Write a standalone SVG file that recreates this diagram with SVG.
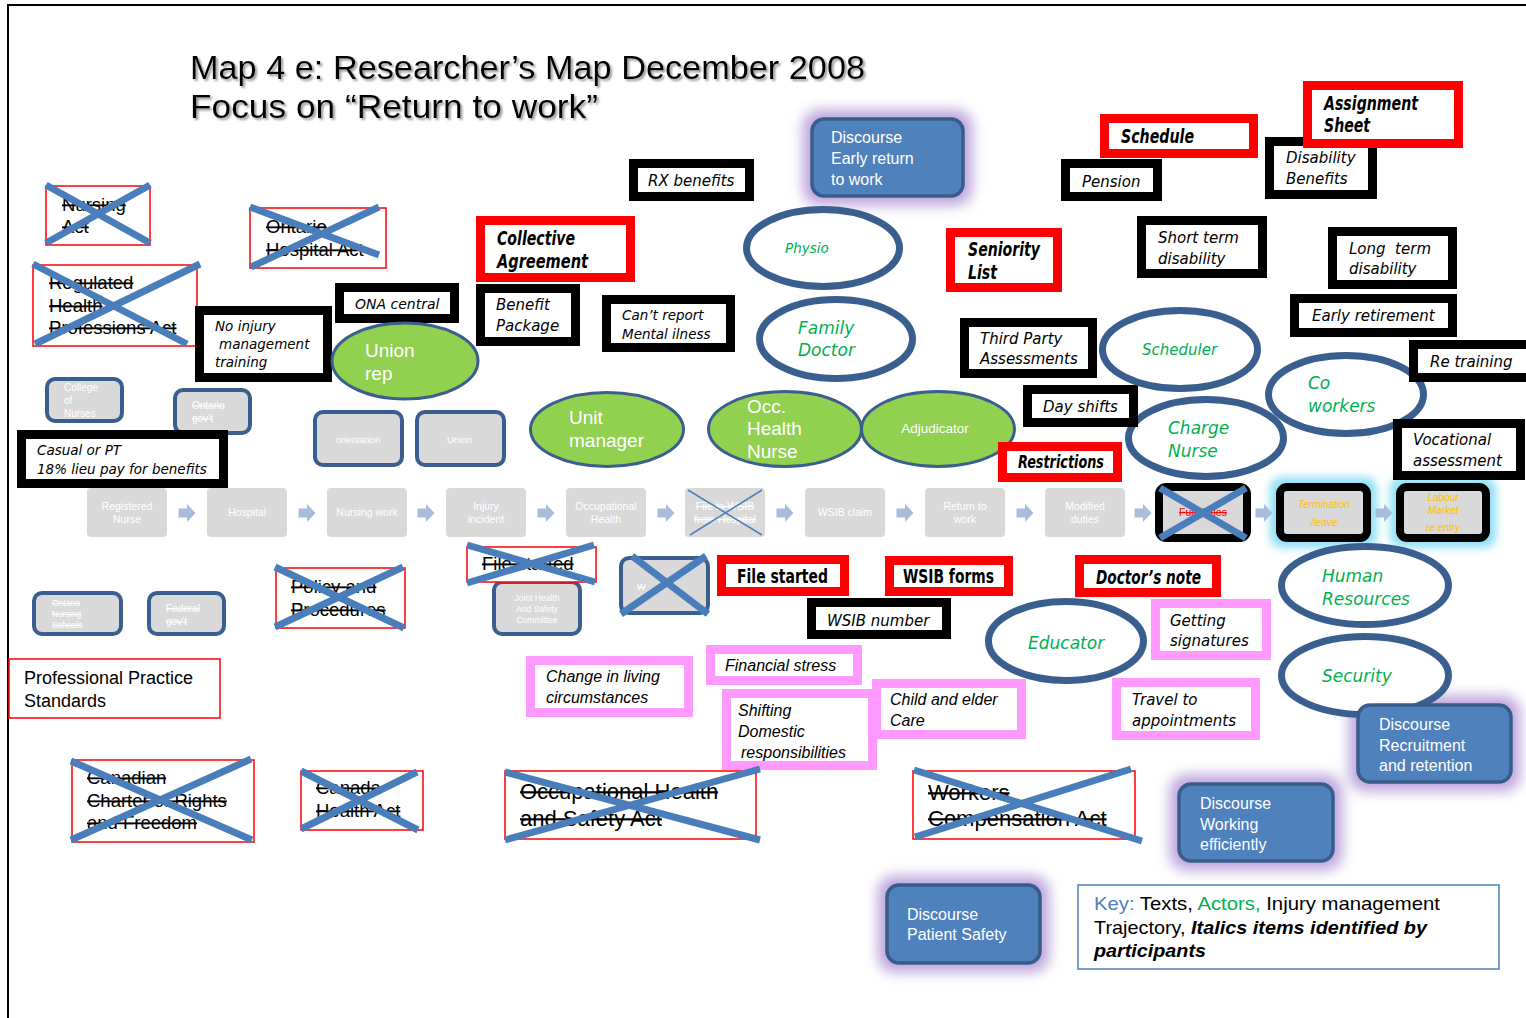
<svg xmlns="http://www.w3.org/2000/svg" width="1526" height="1018" viewBox="0 0 1526 1018">
<defs>
  <filter id="shadow" x="-5%" y="-20%" width="110%" height="150%">
    <feDropShadow dx="2" dy="2" stdDeviation="1.2" flood-color="#7f7f7f" flood-opacity="0.8"/>
  </filter>
  <filter id="blur" x="-40%" y="-40%" width="180%" height="180%">
    <feGaussianBlur stdDeviation="7"/>
  </filter>
  <filter id="blurS" x="-40%" y="-40%" width="180%" height="180%">
    <feGaussianBlur stdDeviation="4"/>
  </filter>
  <path id="arr" d="M-8.5,-4.5 H0 V-9 L8.5,0 L0,9 V4.5 H-8.5 Z" fill="#a9bcdb"/>
  <style>
    .frame{stroke:#000;stroke-width:2;fill:none}
    .blk{fill:#fff;stroke:#000;stroke-width:9}
    .red{fill:#fff;stroke:#f00;stroke-width:9}
    .pink{fill:#fff;stroke:#ff99ff;stroke-width:9}
    .law{fill:#fff;stroke:#f00;stroke-width:1.5}
    .x{stroke:#4a7ebb;stroke-width:7;fill:none}
    .xt{stroke:#4a7ebb;stroke-width:1.5;fill:none}
    .actor{fill:#fff;stroke:#3a5f8f;stroke-width:7}
    .grn{fill:#92d050;stroke:#3a5f8f;stroke-width:3}
    .disc{fill:#4f81bd;stroke:#385d8a;stroke-width:3.5}
    .gbox{fill:#d9d9d9;stroke:#3a5f8f;stroke-width:4}
    .traj{fill:#d9d9d9}
    .tbox{fill:#d9d9d9;stroke:#000;stroke-width:8}
    .pglow{fill:#b9a2da}
    .cglow{fill:#8fe0f6}
    text{font-family:"Liberation Sans",Arial,sans-serif}
    .it{font-family:"DejaVu Sans",Verdana,sans-serif;font-style:italic;font-size:15px;fill:#000}
    .its{font-family:"DejaVu Sans",Verdana,sans-serif;font-style:italic;font-size:13.5px;fill:#000}
    .imp{font-family:"DejaVu Sans Condensed","DejaVu Sans",sans-serif;font-weight:bold;font-style:italic;font-size:20px;fill:#000}
    .impu{font-family:"DejaVu Sans Condensed","DejaVu Sans",sans-serif;font-weight:bold;font-size:19px;fill:#000}
    .cit{font-style:italic;font-size:16px;fill:#000}
    .lawt{font-size:18.5px;fill:#000;text-decoration:line-through}
    .act{font-family:"DejaVu Sans",Verdana,sans-serif;font-style:italic;font-size:17px;fill:#00b050}
    .wht{fill:#fff;font-size:19px}
    .dt{fill:#fff;font-size:16px}
    .tt{fill:#fff;font-size:10.5px;text-anchor:middle}
    .gt{fill:#fff;font-size:10px}
    .gold{fill:#ffc000;font-size:10px;font-style:italic;text-anchor:middle}
  </style>
</defs>

<rect width="1526" height="1018" fill="#fff"/>
<path class="frame" d="M8,1018 V5 H1526"/>

<!-- title -->
<g id="title" filter="url(#shadow)">
  <text x="190" y="79" font-size="34" textLength="675" lengthAdjust="spacingAndGlyphs" fill="#000">Map 4 e: Researcher’s Map December 2008</text>
  <text x="190" y="118" font-size="34" textLength="408" lengthAdjust="spacingAndGlyphs" fill="#000">Focus on “Return to work”</text>
</g>

<!-- glows behind discourse boxes -->
<g id="glows">
  <rect class="pglow" x="803" y="110" width="169" height="95" rx="16" filter="url(#blur)"/>
  <rect class="pglow" x="1349" y="696" width="171" height="95" rx="16" filter="url(#blur)"/>
  <rect class="pglow" x="1170" y="775" width="172" height="95" rx="16" filter="url(#blur)"/>
  <rect class="pglow" x="878" y="876" width="171" height="96" rx="16" filter="url(#blur)"/>
  <rect class="cglow" x="1270" y="477" width="107" height="71" rx="12" filter="url(#blurS)"/>
  <rect class="cglow" x="1390" y="477" width="106" height="71" rx="12" filter="url(#blurS)"/>
</g>

<!-- legislation, struck out -->
<g id="nursing-act">
  <rect class="law" x="46" y="186" width="104" height="59"/>
  <text class="lawt" x="62" y="211">Nursing</text>
  <text class="lawt" x="62" y="233">Act</text>
  <path class="x" d="M46,185 L150,243 M46,243 L150,185"/>
</g>
<g id="ontario-hospital-act">
  <rect class="law" x="250" y="208" width="136" height="60"/>
  <text class="lawt" x="266" y="233">Ontario</text>
  <text class="lawt" x="266" y="256">Hospital Act</text>
  <path class="x" d="M250,207 L379,255 M251,267 L379,207"/>
</g>
<g id="regulated-health-professions-act">
  <rect class="law" x="33" y="265" width="164" height="81"/>
  <text class="lawt" x="49" y="289">Regulated</text>
  <text class="lawt" x="49" y="312">Health</text>
  <text class="lawt" x="49" y="334">Professions Act</text>
  <path class="x" d="M33,264 L187,344 M35,344 L200,264"/>
</g>

<!-- government and college bodies -->
<g id="college-of-nurses">
  <rect class="gbox" x="47" y="379" width="75" height="42" rx="8"/>
  <text class="gt" x="64" y="391">College</text>
  <text class="gt" x="64" y="404">of</text>
  <text class="gt" x="64" y="417">Nurses</text>
</g>
<g id="ontario-govt">
  <rect class="gbox" x="175" y="390" width="75" height="43" rx="8"/>
  <text class="gt" x="192" y="409" text-decoration="line-through">Ontario</text>
  <text class="gt" x="192" y="422" text-decoration="line-through">gov’t</text>
</g>
<g id="casual-pt">
  <rect class="blk" x="21.5" y="434.5" width="202" height="49"/>
  <text class="its" x="37" y="455">Casual or PT</text>
  <text class="its" x="37" y="474">18% lieu pay for benefits</text>
</g>
<g id="no-injury-training">
  <rect class="blk" x="199.5" y="310.5" width="128" height="67"/>
  <text class="its" x="215" y="331">No injury</text>
  <text class="its" x="219" y="349">management</text>
  <text class="its" x="215" y="367">training</text>
</g>
<g id="ona-central">
  <rect class="blk" x="339.5" y="287.5" width="115" height="31"/>
  <text class="its" x="355" y="309" style="font-size:14px">ONA central</text>
</g>
<g id="union-rep">
  <ellipse class="grn" cx="405" cy="361" rx="73" ry="38"/>
  <text class="wht" x="365" y="357">Union</text>
  <text class="wht" x="365" y="380">rep</text>
</g>
<g id="orientation">
  <rect class="gbox" x="315" y="412" width="87" height="53" rx="8"/>
  <text class="gt" x="358" y="443" text-anchor="middle" style="font-size:9.5px">orientation</text>
</g>
<g id="union">
  <rect class="gbox" x="417" y="412" width="87" height="53" rx="8"/>
  <text class="gt" x="447" y="443" style="font-size:9.5px">Union</text>
</g>

<!-- benefits and agreements -->
<g id="rx-benefits">
  <rect class="blk" x="633.5" y="163.5" width="116" height="33"/>
  <text class="it" x="648" y="186">RX benefits</text>
</g>
<g id="discourse-early-return">
  <rect class="disc" x="812" y="119" width="151" height="77" rx="12"/>
  <text class="dt" x="831" y="143">Discourse</text>
  <text class="dt" x="831" y="164">Early return</text>
  <text class="dt" x="831" y="185">to work</text>
</g>
<g id="collective-agreement">
  <rect class="red" x="480.5" y="220.5" width="150" height="57"/>
  <text class="imp" x="497" y="245" textLength="78" lengthAdjust="spacingAndGlyphs">Collective</text>
  <text class="imp" x="497" y="268" textLength="91" lengthAdjust="spacingAndGlyphs">Agreement</text>
</g>
<g id="benefit-package">
  <rect class="blk" x="480.5" y="288.5" width="95" height="53"/>
  <text class="it" x="496" y="310">Benefit</text>
  <text class="it" x="496" y="331">Package</text>
</g>
<g id="cant-report">
  <rect class="blk" x="606.5" y="299.5" width="124" height="48"/>
  <text class="its" x="622" y="320">Can’t report</text>
  <text class="its" x="622" y="339">Mental ilness</text>
</g>
<g id="physio">
  <ellipse class="actor" cx="823" cy="248" rx="76.5" ry="38.5"/>
  <text class="act" x="785" y="253" style="font-size:13.5px">Physio</text>
</g>
<g id="family-doctor">
  <ellipse class="actor" cx="836" cy="339" rx="76.5" ry="39.5"/>
  <text class="act" x="798" y="334">Family</text>
  <text class="act" x="798" y="356">Doctor</text>
</g>
<g id="unit-manager">
  <ellipse class="grn" cx="607" cy="429.5" rx="76.5" ry="37"/>
  <text class="wht" x="569" y="424">Unit</text>
  <text class="wht" x="569" y="447">manager</text>
</g>
<g id="occ-health-nurse">
  <ellipse class="grn" cx="785" cy="429" rx="76.5" ry="37.5"/>
  <text class="wht" x="747" y="413">Occ.</text>
  <text class="wht" x="747" y="435">Health</text>
  <text class="wht" x="747" y="458">Nurse</text>
</g>
<g id="adjudicator">
  <ellipse class="grn" cx="938" cy="429" rx="76.5" ry="37.5"/>
  <text fill="#fff" font-size="13.5" x="935" y="433" text-anchor="middle">Adjudicator</text>
</g>
<g id="seniority-list">
  <rect class="red" x="950.5" y="232.5" width="107" height="55"/>
  <text class="imp" x="968" y="256" textLength="72" lengthAdjust="spacingAndGlyphs">Seniority</text>
  <text class="imp" x="968" y="279" textLength="29" lengthAdjust="spacingAndGlyphs">List</text>
</g>
<g id="third-party">
  <rect class="blk" x="964.5" y="322.5" width="128" height="51"/>
  <text class="it" x="980" y="344">Third Party</text>
  <text class="it" x="980" y="364">Assessments</text>
</g>
<g id="charge-nurse">
  <ellipse class="actor" cx="1206" cy="438" rx="77.5" ry="38.5"/>
  <text class="act" x="1168" y="434">Charge</text>
  <text class="act" x="1168" y="457">Nurse</text>
</g>
<g id="day-shifts">
  <rect class="blk" x="1027.5" y="389.5" width="106" height="33"/>
  <text class="it" x="1043" y="412">Day shifts</text>
</g>
<g id="restrictions">
  <rect class="red" x="1002.5" y="446.5" width="115" height="31"/>
  <text class="imp" x="1018" y="468" style="font-size:18px" textLength="86" lengthAdjust="spacingAndGlyphs">Restrictions</text>
</g>
<g id="schedule">
  <rect class="red" x="1104.5" y="118.5" width="149" height="35"/>
  <text class="imp" x="1121" y="143" style="font-size:19px" textLength="73" lengthAdjust="spacingAndGlyphs">Schedule</text>
</g>
<g id="pension">
  <rect class="blk" x="1065.5" y="163.5" width="92" height="33"/>
  <text class="it" x="1082" y="187">Pension</text>
</g>
<g id="disability-benefits">
  <rect class="blk" x="1269.5" y="141.5" width="103" height="53"/>
  <text class="it" x="1286" y="163">Disability</text>
  <text class="it" x="1286" y="184">Benefits</text>
</g>
<g id="assignment-sheet">
  <rect class="red" x="1307.5" y="85.5" width="151" height="58"/>
  <text class="imp" x="1324" y="110" style="font-size:19px" textLength="94" lengthAdjust="spacingAndGlyphs">Assignment</text>
  <text class="imp" x="1324" y="132" style="font-size:19px" textLength="46" lengthAdjust="spacingAndGlyphs">Sheet</text>
</g>
<g id="short-term-disability">
  <rect class="blk" x="1141.5" y="220.5" width="121" height="53"/>
  <text class="it" x="1158" y="243">Short term</text>
  <text class="it" x="1158" y="264">disability</text>
</g>
<g id="long-term-disability">
  <rect class="blk" x="1332.5" y="231.5" width="120" height="53"/>
  <text class="it" x="1349" y="254" xml:space="preserve">Long  term</text>
  <text class="it" x="1349" y="274">disability</text>
</g>
<g id="early-retirement">
  <rect class="blk" x="1294.5" y="298.5" width="158" height="34"/>
  <text class="it" x="1312" y="321">Early retirement</text>
</g>
<g id="scheduler">
  <ellipse class="actor" cx="1180" cy="349.5" rx="77.5" ry="39"/>
  <text class="act" x="1142" y="355" style="font-size:15px">Scheduler</text>
</g>
<g id="co-workers">
  <ellipse class="actor" cx="1346" cy="394.5" rx="77.5" ry="39"/>
  <text class="act" x="1308" y="389">Co</text>
  <text class="act" x="1308" y="412">workers</text>
</g>
<g id="re-training">
  <rect class="blk" x="1413.5" y="344.5" width="122" height="33"/>
  <text class="it" x="1430" y="367">Re training</text>
</g>
<g id="vocational-assessment">
  <rect class="blk" x="1397.5" y="423.5" width="123" height="52"/>
  <text class="it" x="1413" y="445">Vocational</text>
  <text class="it" x="1413" y="466">assessment</text>
</g>

<!-- injury management trajectory -->
<g id="registered-nurse">
  <rect class="traj" x="87" y="488" width="80" height="49" rx="4"/>
  <text class="tt" x="127" y="510">Registered</text>
  <text class="tt" x="127" y="523">Nurse</text>
</g>
<g id="hospital">
  <rect class="traj" x="207" y="488" width="80" height="49" rx="4"/>
  <text class="tt" x="247" y="516">Hospital</text>
</g>
<g id="nursing-work">
  <rect class="traj" x="327" y="488" width="80" height="49" rx="4"/>
  <text class="tt" x="367" y="516">Nursing work</text>
</g>
<g id="injury-incident">
  <rect class="traj" x="446" y="488" width="80" height="49" rx="4"/>
  <text class="tt" x="486" y="510">Injury</text>
  <text class="tt" x="486" y="523">incident</text>
</g>
<g id="occupational-health">
  <rect class="traj" x="566" y="488" width="80" height="49" rx="4"/>
  <text class="tt" x="606" y="510">Occupational</text>
  <text class="tt" x="606" y="523">Health</text>
</g>
<g id="file-to-wsib">
  <rect class="traj" x="685" y="488" width="80" height="49" rx="4"/>
  <text class="tt" x="725" y="510" text-decoration="line-through">File to WSIB</text>
  <text class="tt" x="725" y="523" text-decoration="line-through">from Hospital</text>
  <path class="xt" d="M688,490 L762,535 M762,490 L690,535"/>
</g>
<g id="wsib-claim">
  <rect class="traj" x="805" y="488" width="80" height="49" rx="4"/>
  <text class="tt" x="845" y="516">WSIB claim</text>
</g>
<g id="return-to-work">
  <rect class="traj" x="925" y="488" width="80" height="49" rx="4"/>
  <text class="tt" x="965" y="510">Return to</text>
  <text class="tt" x="965" y="523">work</text>
</g>
<g id="modified-duties">
  <rect class="traj" x="1045" y="488" width="80" height="49" rx="4"/>
  <text class="tt" x="1085" y="510">Modified</text>
  <text class="tt" x="1085" y="523">duties</text>
</g>
<g id="full-duties">
  <rect class="tbox" x="1159" y="487" width="88" height="51" rx="7"/>
  <text x="1203" y="516" fill="#f00" font-size="10.5" text-anchor="middle" text-decoration="line-through">Full duties</text>
  <path class="x" stroke-width="6" d="M1160,488 L1246,538 M1160,538 L1246,488"/>
</g>
<g id="termination-leave">
  <rect class="tbox" x="1280" y="487" width="87" height="51" rx="7"/>
  <text class="gold" x="1324" y="508">Termination</text>
  <text class="gold" x="1324" y="526">/leave</text>
</g>
<g id="labour-market-re-entry">
  <rect class="tbox" x="1400" y="487" width="86" height="51" rx="7"/>
  <text class="gold" x="1443" y="501">Labour</text>
  <text class="gold" x="1443" y="514">Market</text>
  <text class="gold" x="1443" y="531">re entry</text>
</g>

<g id="connectors">
  <use href="#arr" x="187" y="513"/>
  <use href="#arr" x="307" y="513"/>
  <use href="#arr" x="426" y="513"/>
  <use href="#arr" x="546" y="513"/>
  <use href="#arr" x="666" y="513"/>
  <use href="#arr" x="785" y="513"/>
  <use href="#arr" x="905" y="513"/>
  <use href="#arr" x="1025" y="513"/>
  <use href="#arr" x="1143" y="513"/>
  <use href="#arr" x="1264" y="513"/>
  <use href="#arr" x="1384" y="513"/>
</g>

<!-- lower area -->
<g id="ontario-nursing-schools">
  <rect class="gbox" x="34" y="593" width="87" height="41" rx="8"/>
  <text class="gt" x="52" y="606" style="font-size:8.5px" text-decoration="line-through">Ontario</text>
  <text class="gt" x="52" y="617" style="font-size:8.5px" text-decoration="line-through">Nursing</text>
  <text class="gt" x="52" y="628" style="font-size:8.5px" text-decoration="line-through">Schools</text>
</g>
<g id="federal-govt">
  <rect class="gbox" x="149" y="593" width="75" height="41" rx="8"/>
  <text class="gt" x="166" y="612" text-decoration="line-through">Federal</text>
  <text class="gt" x="166" y="625" text-decoration="line-through">gov’t</text>
</g>
<g id="policy-procedures">
  <rect class="law" x="276" y="568" width="129" height="60"/>
  <text class="lawt" x="291" y="593">Policy and</text>
  <text class="lawt" x="291" y="616">Procedures</text>
  <path class="x" d="M275,567 L404,628 M275,627 L403,567"/>
</g>
<g id="joint-health-safety">
  <rect class="gbox" x="494" y="582" width="86" height="52" rx="8"/>
  <text class="gt" x="537" y="601" style="font-size:8.5px" text-anchor="middle">Joint Health</text>
  <text class="gt" x="537" y="612" style="font-size:8.5px" text-anchor="middle">And Safety</text>
  <text class="gt" x="537" y="623" style="font-size:8.5px" text-anchor="middle">Committee</text>
</g>
<g id="file-started-struck">
  <rect class="law" x="467" y="547" width="129" height="35"/>
  <text class="lawt" x="482" y="570">File started</text>
  <path class="x" d="M467,545 L595,582 M467,583 L594,545"/>
</g>
<g id="wsib-struck">
  <rect class="gbox" x="621" y="558" width="87" height="55" rx="8"/>
  <text class="gt" x="637" y="590" style="font-size:9px" text-decoration="line-through">W</text>
  <path class="x" d="M621,614 L706,556 M632,556 L708,614"/>
</g>
<g id="file-started">
  <rect class="red" x="721.5" y="559.5" width="123" height="32"/>
  <text class="impu" x="737" y="583" textLength="91" lengthAdjust="spacingAndGlyphs">File started</text>
</g>
<g id="wsib-forms">
  <rect class="red" x="889.5" y="560.5" width="119" height="31"/>
  <text class="impu" x="903" y="583" textLength="91" lengthAdjust="spacingAndGlyphs">WSIB forms</text>
</g>
<g id="doctors-note">
  <rect class="red" x="1079.5" y="559.5" width="137" height="33"/>
  <text class="imp" x="1096" y="584" style="font-size:19px" textLength="105" lengthAdjust="spacingAndGlyphs">Doctor’s note</text>
</g>
<g id="wsib-number">
  <rect class="blk" x="811.5" y="602.5" width="135" height="32"/>
  <text class="it" x="827" y="626">WSIB number</text>
</g>
<g id="professional-practice-standards">
  <rect class="law" x="9" y="659" width="211" height="59"/>
  <text x="24" y="684" font-size="18" fill="#000">Professional Practice</text>
  <text x="24" y="707" font-size="18" fill="#000">Standards</text>
</g>
<g id="change-in-living">
  <rect class="pink" x="530.5" y="660.5" width="158" height="52"/>
  <text class="cit" x="546" y="682">Change in living</text>
  <text class="cit" x="546" y="703">circumstances</text>
</g>
<g id="financial-stress">
  <rect class="pink" x="710.5" y="649.5" width="147" height="31"/>
  <text class="cit" x="725" y="671">Financial stress</text>
</g>
<g id="shifting-domestic">
  <rect class="pink" x="726.5" y="693.5" width="146" height="72"/>
  <text class="cit" x="738" y="716">Shifting</text>
  <text class="cit" x="738" y="737">Domestic</text>
  <text class="cit" x="741" y="758">responsibilities</text>
</g>
<g id="child-elder-care">
  <rect class="pink" x="876.5" y="683.5" width="145" height="51"/>
  <text class="cit" x="890" y="705">Child and elder</text>
  <text class="cit" x="890" y="726">Care</text>
</g>
<g id="educator">
  <ellipse class="actor" cx="1066" cy="641" rx="77.5" ry="39.5"/>
  <text class="act" x="1028" y="649">Educator</text>
</g>
<g id="getting-signatures">
  <rect class="pink" x="1155.5" y="603.5" width="111" height="52"/>
  <text class="it" x="1170" y="626">Getting</text>
  <text class="it" x="1170" y="646">signatures</text>
</g>
<g id="travel-appointments">
  <rect class="pink" x="1116.5" y="682.5" width="139" height="53"/>
  <text class="it" x="1132" y="705">Travel to</text>
  <text class="it" x="1132" y="726">appointments</text>
</g>
<g id="human-resources">
  <ellipse class="actor" cx="1365" cy="585.5" rx="83.5" ry="39"/>
  <text class="act" x="1322" y="582">Human</text>
  <text class="act" x="1322" y="605">Resources</text>
</g>
<g id="security">
  <ellipse class="actor" cx="1365" cy="675.5" rx="83.5" ry="39"/>
  <text class="act" x="1322" y="682">Security</text>
</g>
<g id="discourse-recruitment">
  <rect class="disc" x="1358" y="705" width="153" height="77" rx="12"/>
  <text class="dt" x="1379" y="730">Discourse</text>
  <text class="dt" x="1379" y="751">Recruitment</text>
  <text class="dt" x="1379" y="771">and retention</text>
</g>
<g id="discourse-working">
  <rect class="disc" x="1179" y="784" width="154" height="77" rx="12"/>
  <text class="dt" x="1200" y="809">Discourse</text>
  <text class="dt" x="1200" y="830">Working</text>
  <text class="dt" x="1200" y="850">efficiently</text>
</g>
<g id="discourse-patient-safety">
  <rect class="disc" x="887" y="885" width="153" height="78" rx="12"/>
  <text class="dt" x="907" y="920">Discourse</text>
  <text class="dt" x="907" y="940">Patient Safety</text>
</g>

<!-- federal and provincial acts, struck out -->
<g id="canadian-charter">
  <rect class="law" x="72" y="760" width="182" height="82"/>
  <text class="lawt" x="87" y="784">Canadian</text>
  <text class="lawt" x="87" y="807">Charter of Rights</text>
  <text class="lawt" x="87" y="829">and Freedom</text>
  <path class="x" d="M71,761 L252,840 M71,840 L251,759"/>
</g>
<g id="canada-health-act">
  <rect class="law" x="301" y="771" width="122" height="59"/>
  <text class="lawt" x="316" y="794">Canada</text>
  <text class="lawt" x="316" y="817">Health Act</text>
  <path class="x" d="M301,771 L418,830 M301,829 L417,772"/>
</g>
<g id="ohsa">
  <rect class="law" x="505" y="771" width="251" height="68"/>
  <text class="lawt" x="520" y="799" style="font-size:22px">Occupational Health</text>
  <text class="lawt" x="520" y="826" style="font-size:22px">and Safety Act</text>
  <path class="x" d="M505,772 L760,840 M505,840 L760,769"/>
</g>
<g id="workers-compensation-act">
  <rect class="law" x="913" y="771" width="222" height="68"/>
  <text class="lawt" x="928" y="800" style="font-size:22px">Workers</text>
  <text class="lawt" x="928" y="826" style="font-size:22px">Compensation Act</text>
  <path class="x" d="M914,770 L1142,841 M915,837 L1131,769"/>
</g>

<!-- key -->
<g id="key">
  <rect x="1078" y="885" width="421" height="84" fill="#fff" stroke="#4f81bd" stroke-width="1.5"/>
  <text x="1094" y="910" font-size="18.5" textLength="346" lengthAdjust="spacingAndGlyphs"><tspan fill="#4f81bd">Key: </tspan><tspan fill="#000">Texts, </tspan><tspan fill="#00b050">Actors, </tspan><tspan fill="#000">Injury management</tspan></text>
  <text x="1094" y="934" font-size="18.5" fill="#000" textLength="333" lengthAdjust="spacingAndGlyphs">Trajectory, <tspan font-weight="bold" font-style="italic">Italics items identified by</tspan></text>
  <text x="1094" y="957" font-size="18.5" fill="#000" font-weight="bold" font-style="italic" textLength="112" lengthAdjust="spacingAndGlyphs">participants</text>
</g>
</svg>
